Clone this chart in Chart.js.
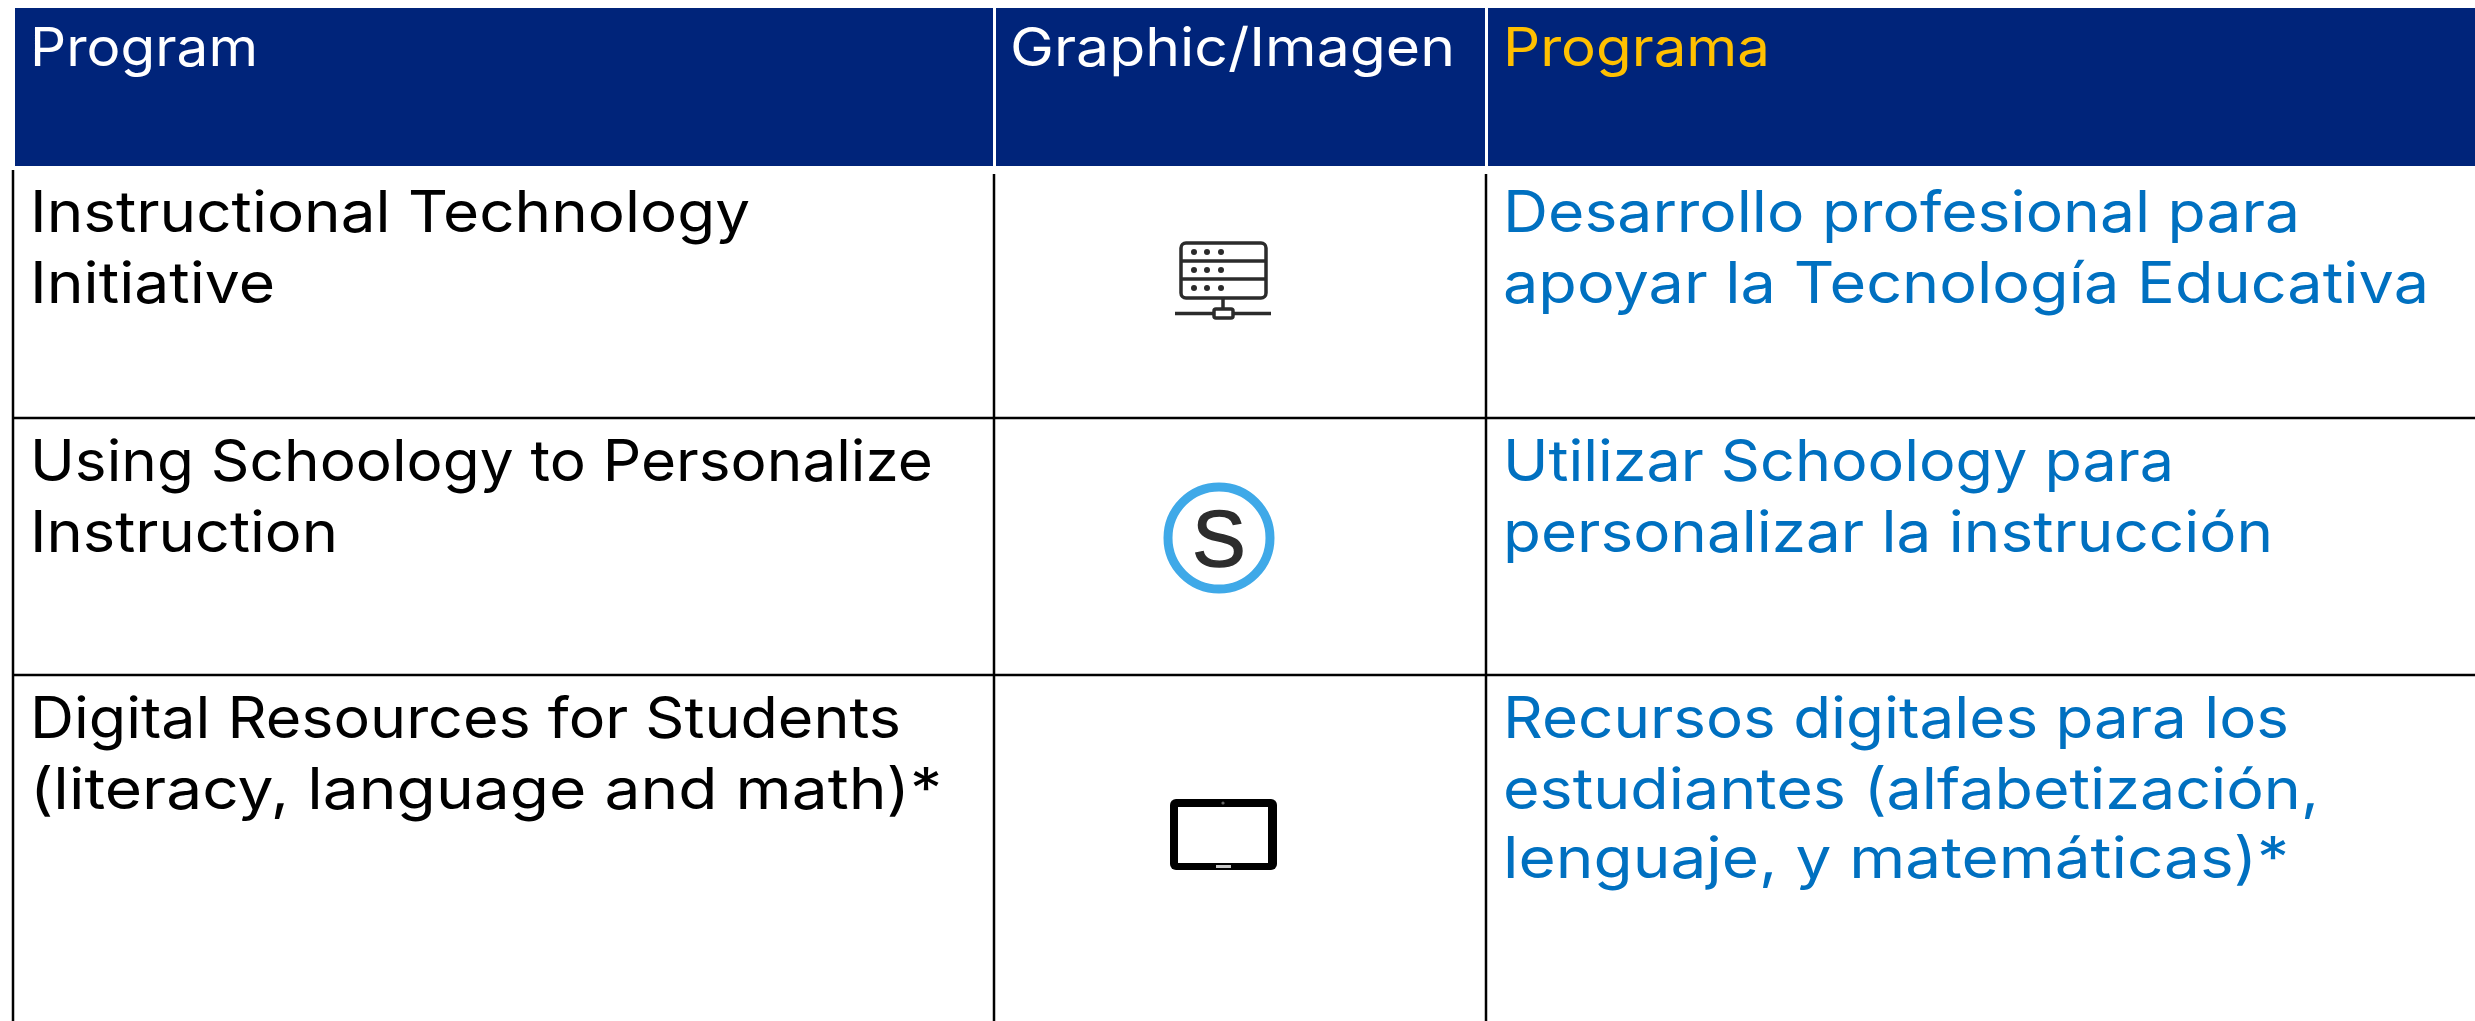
<!DOCTYPE html>
<html>
<head>
<meta charset="utf-8">
<title>Programs</title>
<style>
  html, body { margin: 0; padding: 0; background: #FFFFFF; overflow: hidden; }
  canvas { display: block; }
</style>
<script src="https://cdn.jsdelivr.net/npm/chart.js@4"></script>
</head>
<body>
<canvas id="tableChart" width="2475" height="1021"></canvas>
<script>
// Table content
const headers = ['Program', 'Graphic/Imagen', 'Programa'];
const programs = [
    ['Instructional Technology', 'Initiative'],
    ['Using Schoology to Personalize', 'Instruction'],
    ['Digital Resources for Students', '(literacy, language and math)*']
];
const programas = [
    ['Desarrollo profesional para', 'apoyar la Tecnología Educativa'],
    ['Utilizar Schoology para', 'personalizar la instrucción'],
    ['Recursos digitales para los', 'estudiantes (alfabetización,', 'lenguaje, y matemáticas)*']
];
const icons = ['server', 'schoology', 'tablet'];

// Colours and type
const theme = {
    navy: '#00247A',
    white: '#FFFFFF',
    gold: '#FFC000',
    blue: '#0070C0',
    black: '#000000',
    ring: '#3FA9E8',
    ink: '#2D2D2D'
};
const fontFamily = 'Inter, "Noto Sans", sans-serif';
const headerFont = `400 53px ${fontFamily}`;
const bodyFont = `400 57px ${fontFamily}`;

// Table layout, in axis units (the axes run 1:1 with the canvas)
const columnEdges = [13, 994, 1486, 2475];
const rowEdges = [418, 675];
const headerBand = { top: 8, bottom: 166, left: 15 };
const textX = [30, 1010, 1503];
const headerBaseline = 66;
const rowBaselines = [[232, 303], [481, 552], [738, 809, 878]];
const iconCentres = [{ x: 1223, y: 280 }, { x: 1219, y: 538 }, { x: 1223, y: 834 }];

// Inter has other proportions than the reference face, so each line is fitted to its measured width
const headerWidths = [228, 445, 267];
const programWidths = [[720, 245], [903, 308], [871, 912]];
const programaWidths = [[797, 926], [671, 770], [786, 816, 786]];

function lineDataset(points, color, width) {
    return {
        data: points,
        showLine: true,
        borderColor: color,
        borderWidth: width,
        borderCapStyle: 'butt',
        pointRadius: 0,
        tension: 0
    };
}

function buildDatasets() {
    const sets = [];
    const bandY = (headerBand.top + headerBand.bottom) / 2;
    const bandHeight = headerBand.bottom - headerBand.top;
    // header cells
    sets.push(lineDataset([{ x: headerBand.left, y: bandY }, { x: columnEdges[1] - 1, y: bandY }], theme.navy, bandHeight));
    sets.push(lineDataset([{ x: columnEdges[1] + 2, y: bandY }, { x: columnEdges[2] - 1, y: bandY }], theme.navy, bandHeight));
    sets.push(lineDataset([{ x: columnEdges[2] + 2, y: bandY }, { x: columnEdges[3], y: bandY }], theme.navy, bandHeight));
    // grid lines
    sets.push(lineDataset([{ x: columnEdges[0], y: 170 }, { x: columnEdges[0], y: 1021 }], theme.black, 2.5));
    sets.push(lineDataset([{ x: columnEdges[1], y: 174 }, { x: columnEdges[1], y: 1021 }], theme.black, 2.5));
    sets.push(lineDataset([{ x: columnEdges[2], y: 174 }, { x: columnEdges[2], y: 1021 }], theme.black, 2.5));
    rowEdges.forEach(y => {
        sets.push(lineDataset([{ x: columnEdges[0], y: y }, { x: columnEdges[3], y: y }], theme.black, 2.5));
    });
    return sets;
}

function roundRect(ctx, x, y, w, h, r) {
    ctx.beginPath();
    ctx.roundRect(x, y, w, h, r);
}

function drawServer(ctx, cx, cy) {
    ctx.strokeStyle = '#2B2B2B';
    ctx.fillStyle = '#2B2B2B';
    ctx.lineWidth = 3.5;
    roundRect(ctx, cx - 42, cy - 37, 85, 55, 5);
    ctx.stroke();
    [-19, -1].forEach(dy => {
        ctx.beginPath();
        ctx.moveTo(cx - 42, cy + dy);
        ctx.lineTo(cx + 43, cy + dy);
        ctx.stroke();
    });
    [-28, -10, 8].forEach(dy => {
        [-29, -16, -2].forEach(dx => {
            ctx.beginPath();
            ctx.arc(cx + dx, cy + dy, 3, 0, Math.PI * 2);
            ctx.fill();
        });
    });
    ctx.beginPath();
    ctx.moveTo(cx, cy + 18);
    ctx.lineTo(cx, cy + 29);
    ctx.moveTo(cx - 48, cy + 33.5);
    ctx.lineTo(cx - 9, cy + 33.5);
    ctx.moveTo(cx + 10, cy + 33.5);
    ctx.lineTo(cx + 48, cy + 33.5);
    ctx.stroke();
    roundRect(ctx, cx - 9, cy + 29, 19, 9, 2);
    ctx.stroke();
}

function drawSchoology(ctx, cx, cy) {
    ctx.strokeStyle = theme.ring;
    ctx.lineWidth = 9;
    ctx.beginPath();
    ctx.arc(cx, cy, 51, 0, Math.PI * 2);
    ctx.stroke();
    ctx.fillStyle = theme.ink;
    ctx.strokeStyle = theme.ink;
    ctx.lineWidth = 1.5;
    ctx.font = '400 80px "Liberation Sans", Arial, sans-serif';
    ctx.textAlign = 'center';
    ctx.fillText('S', cx, cy + 28);
    ctx.strokeText('S', cx, cy + 28);
    ctx.textAlign = 'left';
}

function drawTablet(ctx, cx, cy) {
    ctx.fillStyle = theme.black;
    roundRect(ctx, cx - 53, cy - 35, 107, 71, 6);
    ctx.fill();
    ctx.fillStyle = theme.white;
    ctx.fillRect(cx - 45, cy - 27, 90, 56);
    ctx.fillStyle = '#C8C8C8';
    ctx.fillRect(cx - 7, cy + 31, 15, 3);
    ctx.fillStyle = '#666666';
    ctx.beginPath();
    ctx.arc(cx, cy - 31, 1.6, 0, Math.PI * 2);
    ctx.fill();
}

const iconPainters = { server: drawServer, schoology: drawSchoology, tablet: drawTablet };

function fittedText(ctx, text, px, py, width) {
    const stretch = width / ctx.measureText(text).width;
    ctx.save();
    ctx.translate(px, py);
    ctx.scale(stretch, 1);
    ctx.fillText(text, 0, 0);
    ctx.restore();
}

// Plugin for the cell texts and the pictograms
const tableCells = {
    id: 'tableCells',
    afterDatasetsDraw(chart) {
        const { ctx, scales: { x, y } } = chart;
        ctx.save();
        ctx.textBaseline = 'alphabetic';
        ctx.textAlign = 'left';

        ctx.font = headerFont;
        headers.forEach((label, i) => {
            ctx.fillStyle = i === 2 ? theme.gold : theme.white;
            fittedText(ctx, label, x.getPixelForValue(textX[i]), y.getPixelForValue(headerBaseline), headerWidths[i]);
        });

        ctx.font = bodyFont;
        programs.forEach((lines, row) => {
            ctx.fillStyle = theme.black;
            lines.forEach((line, n) => {
                fittedText(ctx, line, x.getPixelForValue(textX[0]), y.getPixelForValue(rowBaselines[row][n]), programWidths[row][n]);
            });
        });
        programas.forEach((lines, row) => {
            ctx.fillStyle = theme.blue;
            lines.forEach((line, n) => {
                fittedText(ctx, line, x.getPixelForValue(textX[2]), y.getPixelForValue(rowBaselines[row][n]), programaWidths[row][n]);
            });
        });

        icons.forEach((name, row) => {
            const c = iconCentres[row];
            iconPainters[name](ctx, x.getPixelForValue(c.x), y.getPixelForValue(c.y));
        });
        ctx.restore();
    }
};

new Chart(document.getElementById('tableChart').getContext('2d'), {
    type: 'scatter',
    data: { datasets: buildDatasets() },
    plugins: [tableCells],
    options: {
        responsive: false,
        animation: false,
        layout: { padding: 0 },
        plugins: { legend: { display: false }, tooltip: { enabled: false } },
        scales: {
            x: { type: 'linear', display: false, min: 0, max: 2475 },
            y: { type: 'linear', display: false, min: 0, max: 1021, reverse: true }
        }
    }
});
</script>
</body>
</html>
